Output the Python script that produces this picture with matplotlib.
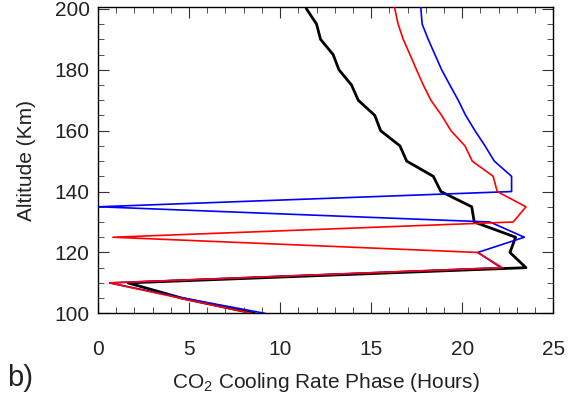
import matplotlib
matplotlib.use("Agg")
import matplotlib.pyplot as plt
from matplotlib.ticker import MultipleLocator

plt.rcParams["font.family"] = ["Liberation Sans", "DejaVu Sans"]
plt.rcParams["mathtext.fontset"] = "custom"
plt.rcParams["mathtext.rm"] = "Liberation Sans"

# altitude grid (km), one phase value per level
alt = [100, 105, 110, 115, 120, 125, 130, 135, 140, 145, 150, 155, 160,
       165, 170, 175, 180, 185, 190, 195, 200, 205]
phase_black = [8.57, 4.6, 1.65, 23.5, 22.62, 22.93, 20.66, 20.52, 18.83,
               18.41, 16.95, 16.58, 15.52, 15.20, 14.29, 13.92, 13.23,
               12.91, 12.22, 12.0, 11.45, 11.2]
phase_red = [8.43, 4.49, 0.64, 22.2, 20.85, 0.82, 22.8, 23.5, 21.92,
             21.70, 20.55, 20.15, 19.38, 18.87, 18.28, 17.86, 17.49,
             17.13, 16.76, 16.48, 16.30, 16.2]
phase_blue = [9.16, 4.7, 0.64, 22.13, 20.85, 23.41, 21.52, 0.04, 22.71,
              22.71, 21.76, 21.25, 20.70, 20.19, 19.78, 19.32, 18.87,
              18.5, 18.13, 17.80, 17.73, 17.7]

TXT = "#222222"

fig = plt.figure(figsize=(5.72, 4.08), dpi=100)
ax = fig.add_axes([0.1713, 0.232, 0.796, 0.750])

ax.plot(phase_black, alt, color="black", lw=2.0, zorder=3)
ax.plot(phase_blue, alt, color="blue", lw=1.2, zorder=4)
ax.plot(phase_red, alt, color="red", lw=1.2, zorder=5)

ax.set_xlim(0, 25)
ax.set_ylim(100, 200.5)
ax.xaxis.set_major_locator(MultipleLocator(5))
ax.xaxis.set_minor_locator(MultipleLocator(1))
ax.yaxis.set_major_locator(MultipleLocator(20))
ax.yaxis.set_minor_locator(MultipleLocator(5))
ax.tick_params(which="both", direction="in", top=True, right=True,
               labelsize=15, color="#333333", labelcolor=TXT)
ax.tick_params(which="major", length=8)
ax.tick_params(which="minor", length=4)
ax.tick_params(axis="x", which="major", pad=19)
ax.tick_params(axis="y", which="major", pad=6)
for s in ax.spines.values():
    s.set_linewidth(1.0)

ax.set_ylabel("Altitude (Km)", fontsize=15, labelpad=13, color=TXT)
ax.set_xlabel("CO$_2$ Cooling Rate Phase (Hours)", fontsize=15,
              labelpad=9, color=TXT)
fig.text(0.012, 0.055, "b)", fontsize=21, color=TXT)

fig.savefig("out.png", dpi=100)
